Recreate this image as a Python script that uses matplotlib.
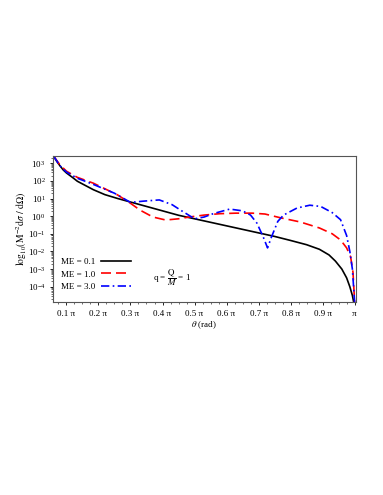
import matplotlib
matplotlib.use("Agg")
import matplotlib.pyplot as plt
import numpy as np
from matplotlib.ticker import FixedLocator, MultipleLocator, LogLocator, NullFormatter

plt.rcParams["font.family"] = ["Liberation Serif", "DejaVu Serif"]
plt.rcParams["mathtext.fontset"] = "stix"

# theta in units of pi, values as log10(M^-2 dsigma/dOmega)
theta_01 = [0.06, 0.07, 0.08, 0.09, 0.10, 0.12, 0.134, 0.16, 0.184, 0.22, 0.26,
            0.30, 0.35, 0.40, 0.45, 0.50, 0.55, 0.60, 0.65, 0.70, 0.75, 0.80,
            0.85, 0.89, 0.92, 0.94, 0.96, 0.975, 0.985, 0.993, 0.997]
log_01 = [3.40, 3.10, 2.85, 2.62, 2.45, 2.18, 1.98, 1.73, 1.50, 1.22, 1.00,
          0.80, 0.55, 0.30, 0.05, -0.15, -0.35, -0.55, -0.75, -0.95, -1.15, -1.38,
          -1.62, -1.88, -2.20, -2.55, -3.00, -3.50, -4.00, -4.50, -4.87]

theta_10 = [0.06, 0.08, 0.10, 0.134, 0.184, 0.26, 0.30, 0.33, 0.37, 0.41, 0.45,
            0.48, 0.53, 0.58, 0.63, 0.68, 0.72, 0.77, 0.83, 0.89, 0.93, 0.956,
            0.975, 0.9875, 0.995, 1.0]
log_10 = [3.40, 2.90, 2.55, 2.20, 1.87, 1.20, 0.73, 0.34, -0.05, -0.22, -0.15,
          -0.06, 0.06, 0.14, 0.17, 0.17, 0.12, -0.10, -0.33, -0.67, -1.00, -1.35,
          -1.80, -2.30, -3.20, -4.87]

theta_30 = [0.06, 0.08, 0.10, 0.134, 0.184, 0.25, 0.30, 0.34, 0.39, 0.43, 0.46,
            0.50, 0.53, 0.56, 0.61, 0.65, 0.675, 0.695, 0.715, 0.728, 0.74, 0.76,
            0.778, 0.82, 0.86, 0.894, 0.93, 0.956, 0.975, 0.985, 0.993, 1.0]
log_30 = [3.40, 2.85, 2.50, 2.15, 1.80, 1.30, 0.78, 0.85, 0.92, 0.65, 0.30,
          -0.15, -0.05, 0.15, 0.40, 0.30, 0.06, -0.40, -1.20, -1.80, -1.20, -0.30,
          0.06, 0.46, 0.62, 0.55, 0.20, -0.20, -1.10, -2.00, -3.00, -4.87]

series_labels = ["ME = 0.1", "ME = 1.0", "ME = 3.0"]

fig = plt.figure(figsize=(3.83, 4.95), dpi=100)
ax = fig.add_axes([0.1384, 0.3899, 0.79, 0.2949])

ax.plot(theta_01, 10 ** np.array(log_01), color="black", lw=1.2,
        label=series_labels[0])
ax.plot(theta_10, 10 ** np.array(log_10), color="red", lw=1.2,
        linestyle=(0, (6, 3)), label=series_labels[1])
ax.plot(theta_30, 10 ** np.array(log_30), color="blue", lw=1.2,
        linestyle=(0, (5, 2, 1, 2)), label=series_labels[2])

ax.set_yscale("log")
ax.set_xlim(0.058, 1.003)
ax.set_ylim(10 ** -4.87, 10 ** 3.41)

xticks = [0.1, 0.2, 0.3, 0.4, 0.5, 0.6, 0.7, 0.8, 0.9, 1.0]
xlabels = ["0.1 \u03c0", "0.2 \u03c0", "0.3 \u03c0", "0.4 \u03c0", "0.5 \u03c0",
           "0.6 \u03c0", "0.7 \u03c0", "0.8 \u03c0", "0.9 \u03c0", "\u03c0"]
ax.xaxis.set_major_locator(FixedLocator(xticks))
ax.set_xticklabels(xlabels, fontsize=6.5)
ax.xaxis.set_minor_locator(MultipleLocator(0.025))

ax.yaxis.set_major_locator(FixedLocator([10.0 ** k for k in range(-4, 4)]))
ax.yaxis.set_minor_locator(LogLocator(base=10, subs=np.arange(2, 10), numticks=20))
ax.yaxis.set_minor_formatter(NullFormatter())
ax.tick_params(axis="both", which="major", labelsize=6.5, length=2.5, width=0.6,
               pad=3)
ax.tick_params(axis="both", which="minor", length=1.2, width=0.4)

for s in ax.spines.values():
    s.set_linewidth(0.8)
    s.set_color("#555555")

ax.set_xlabel(r"$\theta$ (rad)", fontsize=6.5, labelpad=1)
ax.set_ylabel(r"$\log_{10}\!\left(\mathrm{M}^{-2}\mathrm{d}\sigma\ /\ \mathrm{d}\Omega\right)$",
              fontsize=7, labelpad=-1)

ax.legend(loc="lower left", bbox_to_anchor=(0.0, 0.02), frameon=False,
          markerfirst=False, fontsize=6.5, handlelength=3.4, labelspacing=0.45,
          handletextpad=0.6)

ax.text(0.33, 0.165, r"q = $\dfrac{\mathrm{Q}}{M}$ = 1", transform=ax.transAxes,
        fontsize=6.5, va="center", ha="left")

plt.savefig("out.png", dpi=100)
